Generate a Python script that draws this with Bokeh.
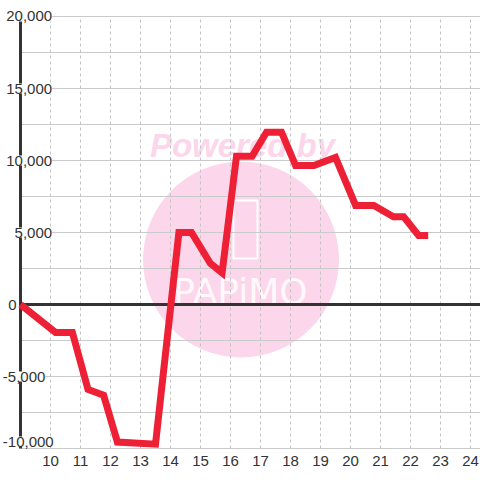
from bokeh.plotting import figure
from bokeh.models import Range1d, LinearAxis, FixedTicker, SingleIntervalTicker, Grid, Label
from bokeh.core.properties import value
from bokeh.embed import file_html
from bokeh.resources import INLINE

# ---- data ----
hours = [9.0, 10.17, 10.73, 11.25, 11.77, 12.23, 13.5, 14.28, 14.7, 15.33, 15.72,
         16.2, 16.72, 17.2, 17.7, 18.17, 18.78, 19.5, 20.17, 20.78, 21.43, 21.77,
         22.27, 22.59]
profit = [0, -1950, -1950, -5900, -6300, -9550, -9700, 5000, 5000, 2850, 2200,
          10300, 10300, 11970, 11970, 9650, 9650, 10210, 6880, 6880, 6100, 6100,
          4800, 4800]

x_ticks = list(range(10, 25))
y_tick_values = [20000, 15000, 10000, 5000, 0, -5000, -10000]
y_tick_labels = ["20,000", "15,000", "10,000", "5,000", "0", "-5,000", "-10,000"]

FONT = "Liberation Sans"
TXT = "#333333"
RED = "#ee2036"
PINK = "#fcd6ea"

X0, X1 = 8.3333, 24.3333
Y0, Y1 = -10069.4, 21111.1

p = figure(width=480, height=480, output_backend="svg", toolbar_location=None,
           x_range=Range1d(X0, X1), y_range=Range1d(Y0, Y1),
           x_axis_type=None, y_axis_type=None,
           min_border_left=0, min_border_right=0, min_border_top=0,
           min_border_bottom=31)
p.outline_line_color = None
p.background_fill_color = "white"
p.border_fill_color = "white"

# bottom axis: labels only
xaxis = LinearAxis(ticker=FixedTicker(ticks=x_ticks), axis_line_color=None,
                   major_tick_line_color=None, minor_tick_line_color=None,
                   major_tick_out=0, major_tick_in=0, major_label_standoff=6,
                   major_label_text_font=FONT, major_label_text_font_size="15px",
                   major_label_text_color=TXT)
p.add_layout(xaxis, "below")

# grids
vgrid = Grid(dimension=0, ticker=FixedTicker(ticks=x_ticks),
             grid_line_color="#c4c4c4", grid_line_dash="3 3", grid_line_width=1,
             cross_bounds=(-10000, 20000))
hgrid = Grid(dimension=1, ticker=SingleIntervalTicker(interval=2500),
             grid_line_color="#cacaca", grid_line_width=1, cross_bounds=(9, X1))
p.add_layout(vgrid)
p.add_layout(hgrid)

# axis lines (y axis at x=9, zero line)
yaxis_line = Grid(dimension=0, ticker=FixedTicker(ticks=[9]), grid_line_color=TXT,
                  grid_line_width=3, cross_bounds=(-10000, 20000))
zero_line = Grid(dimension=1, ticker=FixedTicker(ticks=[0]), grid_line_color=TXT,
                 grid_line_width=3, cross_bounds=(9, X1))
p.add_layout(yaxis_line)
p.add_layout(zero_line)

# watermark (decoration)
p.circle(x=[16.35], y=[3125], radius=98, radius_units="screen",
         fill_color=PINK, line_color=None, level="image")
p.add_layout(Label(x=16.4, y=11042, text="Powered by", text_font=FONT,
                   text_font_style="bold italic", text_font_size="33px",
                   text_color=PINK, text_align="center", text_baseline="alphabetic",
                   level="image"))
p.rect(x=[16.5], y=[5208], width=24, height=58, width_units="screen",
       height_units="screen", fill_color=None, line_color="white", line_width=2,
       level="image")
p.add_layout(Label(x=16.333, y=903, text="PAPiMO", text_font="DejaVu Sans",
                   text_font_size="36px", text_color="white", text_alpha=0.85,
                   text_align="center", text_baseline="middle", level="image"))

# data line
p.line(hours, profit, line_color=RED, line_width=7, line_join="miter")

# y tick labels (drawn inside the plot, with white boxes)
for v, t in zip(y_tick_values, y_tick_labels):
    if v > 0:
        lx, align = 10.053, "right"
    elif v == 0:
        lx, align = 8.59, "left"
    else:
        lx, align = 8.41, "left"
    ly = v if v > -10000 else v + 7 * 5000 / 72
    p.add_layout(Label(x=lx, y=ly, text=t, text_font=FONT, text_font_size="15px",
                       text_color=TXT, text_align=align, text_baseline="middle",
                       background_fill_color="white"))

open("out.html", "w").write(file_html(p, INLINE))
